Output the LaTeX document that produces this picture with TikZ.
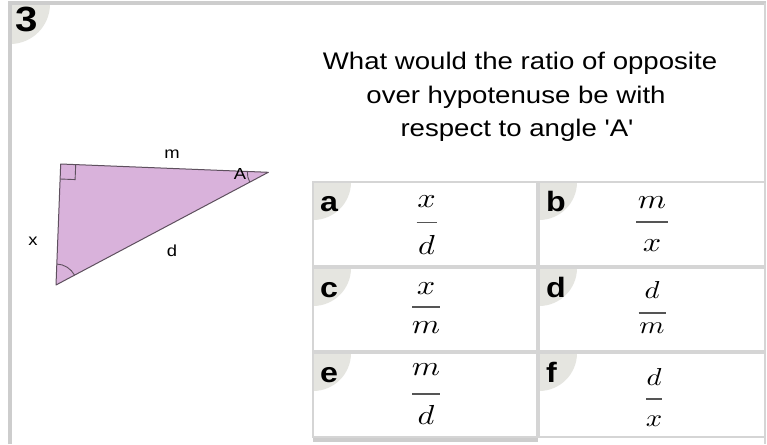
\documentclass[tikz,border=0pt]{standalone}
\usepackage[no-math]{fontspec}
\setmainfont{Liberation Sans}
\newfontfamily\qfont{Liberation Sans}
\usepackage{graphicx}
\definecolor{framegray}{HTML}{CDCDCD}
\definecolor{cellgray}{HTML}{D5D5D5}
\definecolor{circfill}{HTML}{E5E5E0}
\definecolor{trifill}{HTML}{D9B2DB}
\definecolor{tristroke}{HTML}{5E505E}
\definecolor{bargray}{HTML}{555555}
\newcommand\hs[1]{\scalebox{1.15}[1]{#1}}
\tikzset{
  lab/.style={inner sep=0pt, font=\fontsize{16}{18}\selectfont},
  qtext/.style={anchor=base, inner sep=0pt, font=\qfont\fontsize{24}{28}\selectfont},
  cellbox/.style={draw=cellgray, line width=1.3pt},
  letter/.style={anchor=base west, inner sep=0pt, font=\fontsize{28}{30}\selectfont\bfseries},
  mathch/.style={inner sep=0pt},
  fbar/.style={draw=bargray, line width=1.3pt},
  anglemark/.style={draw=tristroke, line width=0.9pt},
}
\newcommand\anscell[6]{%
  \begin{scope}
    \clip (#1,#2) rectangle (#3,#4);
    \fill[circfill] (#1,#2) circle[radius=38];
  \end{scope}
  \draw[cellbox] (#1,#2) rectangle (#3,#4);
  \node[letter] (#6) at (#1+7,#2+29) {\hs{#5}};
}
% #1 cx, #2 num y, #3 num, #4 bar y, #5 bar half width, #6 den y, #7 den, #8 name, #9 vertical scale
\newcommand\fracnode[9]{%
  \pgfmathsetmacro\hsc{1.17*#9}%
  \node[mathch] (#8n) at (#1,#2) {\scalebox{\hsc}[#9]{$#3$}};
  \draw[fbar] (#1-#5,#4) -- (#1+#5,#4);
  \node[mathch] (#8d) at (#1,#6) {\scalebox{\hsc}[#9]{$#7$}};
}
\begin{document}
\begin{tikzpicture}[x=1pt,y=-1pt]
\useasboundingbox (0,0) rectangle (767,444);
\fill[white] (0,0) rectangle (767,444);

% outer frame
\begin{scope}
  \clip (10,3) rectangle (767,444);
  \fill[circfill] (10,4) circle[radius=40];
\end{scope}
\draw[framegray, line width=4pt] (10,444) -- (10,3) -- (766,3);
\draw[cellgray, line width=1.5pt] (765,3) -- (765,444);
\node[anchor=base west, inner sep=0pt, font=\fontsize{35}{37}\selectfont\bfseries] (num) at (15,32) {\hs{3}};

% triangle
\coordinate (R) at (60.7,164);
\coordinate (T) at (268.3,172.3);
\coordinate (B) at (56,285);
\filldraw[fill=trifill, draw=tristroke, line width=1pt, line join=round] (R) -- (T) -- (B) -- cycle;
\draw[anglemark] (75.7,164.6) -- (75.1,179.6) -- (60.1,179);
\draw[anglemark] ([shift={(-87.8:21)}]B) arc[start angle=-87.8, end angle=-28, radius=21];
\draw[anglemark] ([shift={(152:21)}]T) arc[start angle=152, end angle=182.3, radius=21];
\node[lab] (lm) at (172,154) {\hs{m}};
\node[lab] (lx) at (33,241) {\hs{x}};
\node[lab] (ld) at (172,251) {\hs{d}};
\node[lab] (lA) at (240,174) {\hs{A}};

% question
\node[qtext] (q1) at (520,70) {\hs{What would the ratio of opposite}};
\node[qtext] (q2) at (516,103) {\hs{over hypotenuse be with}};
\node[qtext] (q3) at (517,136) {\hs{respect to angle 'A'}};

% answers
\fill[framegray] (313,437) rectangle (538,442);
\anscell{313}{182}{537}{266}{a}{la}
\anscell{539}{182}{765}{266}{b}{lb}
\anscell{313}{268}{537}{351}{c}{lc}
\anscell{539}{268}{765}{351}{d}{ldd}
\anscell{313}{353}{537}{437}{e}{le}
\anscell{539}{353}{765}{437}{f}{lf}

\fracnode{426.5}{202}{x}{222.3}{10}{245}{d}{fa}{2.75}
\fracnode{652}{202.5}{m}{222}{16}{246}{x}{fb}{2.75}
\fracnode{426}{288.5}{x}{307}{14}{328}{m}{fc}{2.75}
\fracnode{652}{290}{d}{313}{13.5}{328}{m}{fd}{2.45}
\fracnode{426}{370}{m}{394}{14}{415}{d}{fe}{2.75}
\fracnode{654}{377}{d}{399}{8}{421}{x}{ff}{2.45}
\end{tikzpicture}
\end{document}
